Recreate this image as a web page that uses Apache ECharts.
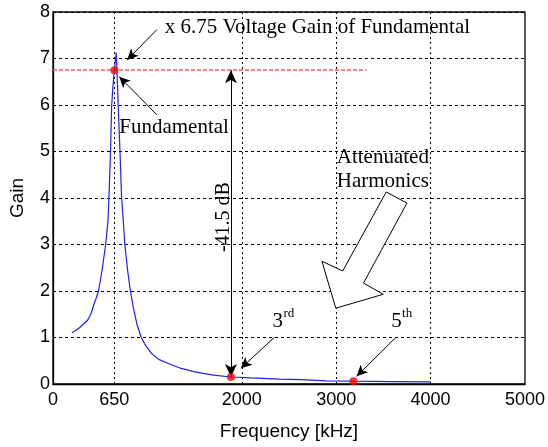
<!DOCTYPE html>
<html>
<head>
<meta charset="utf-8">
<script src="https://cdn.jsdelivr.net/npm/echarts@6/dist/echarts.min.js"></script>
<style>html,body{margin:0;padding:0;background:#fff}#c{width:548px;height:447px}</style>
</head>
<body>
<div id="c"></div>
<script>
// Frequency [kHz] and gain
var freq = [200, 240, 280, 330, 366, 400, 437, 460, 482, 520, 558, 583, 593, 602, 610, 621, 635, 650, 660, 670, 680, 691, 709, 726, 744, 761, 790, 820, 850, 890, 935, 980, 1047, 1120, 1222, 1350, 1500, 1700, 1885, 2100, 2400, 2620, 2640, 2900, 3183, 3600, 4000];
var gain = [1.10, 1.15, 1.21, 1.30, 1.37, 1.50, 1.73, 1.86, 2.00, 2.45, 3.00, 3.53, 4.03, 4.55, 5.04, 5.97, 6.40, 6.75, 6.95, 7.13, 6.60, 5.97, 5.04, 4.03, 3.53, 3.00, 2.45, 2.00, 1.65, 1.28, 1.00, 0.83, 0.65, 0.53, 0.44, 0.34, 0.26, 0.19, 0.15, 0.13, 0.105, 0.095, 0.075, 0.068, 0.06, 0.05, 0.045];
var harmonics = [[650, 6.75], [1885, 0.15], [3183, 0.06]];
var xTicks = [0, 650, 2000, 3000, 4000, 5000];
var xGrid = [650, 2000, 3000, 4000];
var fundamentalGain = 6.75;
var refLineEnd = 3320;
// annotation arrows [fromF, fromG, toF, toG]
var arrows = [
  [1100, 7.62, 786, 6.97],
  [1100, 5.79, 702, 6.61],
  [2347, 1.006, 1990, 0.338],
  [3635, 1.006, 3216, 0.166]
];
var dbArrow = [1885, 6.75, 1885, 0.15];
// block arrow outline in data coords
var blockArrow = [[3530, 4.13], [3750, 3.89], [3289, 2.17], [3499, 1.93], [2996, 1.63], [2849, 2.64], [3069, 2.43]];
// text labels [text, f, g, size]
var labels = [
  ['x 6.75 Voltage Gain of Fundamental', 1185, 7.66, 21],
  ['Fundamental', 702, 5.51, 21],
  ['Attenuated', 3006, 4.88, 21],
  ['Harmonics', 3006, 4.35, 21],
  ['3', 2326, 1.35, 21],
  ['rd', 2441, 1.52, 13],
  ['5', 3583, 1.35, 21],
  ['th', 3698, 1.52, 13]
];
var dbLabel = ['-41.5 dB', 1812, 3.59];

var serif = '"Liberation Serif", "Times New Roman", serif';
var sans = '"Liberation Sans", Arial, sans-serif';
var lineData = freq.map(function (f, i) { return [f, gain[i]]; });

var chart = echarts.init(document.getElementById('c'), null, {renderer: 'canvas'});
var option = {
  animation: false,
  backgroundColor: '#fff',
  grid: {left: 50, right: 21, top: 12, bottom: 63, show: true, borderColor: '#000', borderWidth: 1.3, backgroundColor: 'transparent'},
  xAxis: {
    type: 'value', min: 0, max: 5000, interval: 1000,
    name: 'Frequency [kHz]', nameLocation: 'middle', nameGap: 38,
    nameTextStyle: {fontFamily: sans, fontSize: 19, color: '#000'},
    axisLine: {show: true, onZero: false, lineStyle: {color: '#000', width: 1.3}},
    axisTick: {show: false},
    axisLabel: {customValues: xTicks, formatter: function (v) { return String(v); }, fontFamily: sans, fontSize: 18, color: '#000', margin: 7},
    splitLine: {show: false}
  },
  yAxis: {
    type: 'value', min: 0, max: 8, interval: 1,
    name: 'Gain', nameLocation: 'middle', nameGap: 26,
    nameTextStyle: {fontFamily: sans, fontSize: 19, color: '#000'},
    axisLine: {show: true, onZero: false, lineStyle: {color: '#000', width: 1.3}},
    axisTick: {show: false},
    axisLabel: {fontFamily: sans, fontSize: 18, color: '#000', margin: 3},
    splitLine: {show: true, lineStyle: {color: '#000', width: 1, type: [3, 3]}}
  },
  series: [
    {
      type: 'line', data: [], silent: true,
      markLine: {
        silent: true, symbol: ['none', 'none'], label: {show: false},
        lineStyle: {color: '#000', width: 1, type: [2, 3]},
        data: xGrid.map(function (v) { return {xAxis: v}; })
      }
    },
    {
      type: 'line', data: [], silent: true,
      markLine: {
        silent: true, symbol: ['none', 'none'], label: {show: false},
        lineStyle: {color: '#ff5a5a', width: 1.5, type: [4, 2]},
        data: [[{coord: [0, fundamentalGain]}, {coord: [refLineEnd, fundamentalGain]}]]
      }
    },
    {
      type: 'line', data: lineData, showSymbol: false, smooth: false,
      lineStyle: {color: '#2020f0', width: 1.2}, z: 5
    },
    {
      type: 'scatter', data: harmonics, symbolSize: 8,
      itemStyle: {color: '#ff0000'}, z: 6
    },
    {
      type: 'line', data: [], silent: true, z: 7,
      markLine: {
        silent: true, symbol: ['none', 'arrow'], symbolSize: [8, 11], label: {show: false},
        lineStyle: {color: '#000', width: 1, type: 'solid'},
        data: arrows.map(function (a) { return [{coord: [a[0], a[1]]}, {coord: [a[2], a[3]]}]; })
      }
    },
    {
      type: 'line', data: [], silent: true, z: 7,
      markLine: {
        silent: true, symbol: ['arrow', 'arrow'], symbolSize: [9, 13], label: {show: false},
        lineStyle: {color: '#000', width: 1, type: 'solid'},
        data: [[{coord: [dbArrow[0], dbArrow[1]]}, {coord: [dbArrow[2], dbArrow[3]]}]]
      }
    }
  ]
};
chart.setOption(option);

function px(f, g) { return chart.convertToPixel({gridIndex: 0}, [f, g]); }
var graphics = [];
graphics.push({
  type: 'polygon', z: 20,
  shape: {points: blockArrow.map(function (p) { return px(p[0], p[1]); })},
  style: {fill: '#fff', stroke: '#000', lineWidth: 1}
});
labels.forEach(function (l) {
  var p = px(l[1], l[2]);
  graphics.push({
    type: 'text', z: 30, x: p[0], y: p[1],
    style: {text: l[0], x: 0, y: 0, fontFamily: serif, fontSize: l[3], fill: '#000', align: 'left', verticalAlign: 'middle'}
  });
});
var dp = px(dbLabel[1], dbLabel[2]);
graphics.push({
  type: 'text', z: 30, x: dp[0], y: dp[1], rotation: Math.PI / 2,
  style: {text: dbLabel[0], x: 0, y: 0, fontFamily: serif, fontSize: 20, fill: '#000', align: 'center', verticalAlign: 'middle'}
});
chart.setOption({graphic: graphics});
</script>
</body>
</html>
